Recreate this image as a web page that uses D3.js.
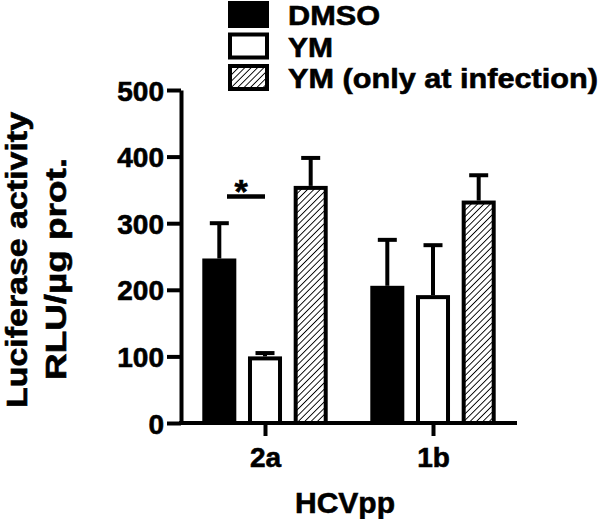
<!DOCTYPE html>
<html>
<head>
<meta charset="utf-8">
<script src="https://cdn.jsdelivr.net/npm/d3@7"></script>
<style>
  html, body { margin: 0; padding: 0; background: #fff; }
  svg { display: block; }
  text { font-family: "Liberation Sans", Arial, sans-serif; font-weight: bold; fill: #000; stroke: #000; stroke-width: 0.6px; }
</style>
</head>
<body>
<svg id="chart" width="600" height="519"></svg>
<script>
// Chart data
const groups = ["2a", "1b"];
const series = ["DMSO", "YM", "YM (only at infection)"];
const dmsoMean = [244, 203];
const dmsoErr = [56, 72];
const ymMean = [97, 189];
const ymErr = [8, 78];
const ymInfMean = [353, 331];
const ymInfErr = [45, 41];
const yTicks = [0, 100, 200, 300, 400, 500];
const sigMarks = [{ group: "2a", value: 340, label: "*" }];

const means = [dmsoMean, ymMean, ymInfMean];
const errs = [dmsoErr, ymErr, ymInfErr];
const fills = ["#000", "#fff", "url(#hatch)"];

const rows = [];
series.forEach((s, i) => {
  groups.forEach((g, j) => {
    rows.push({ series: s, group: g, mean: means[i][j], err: errs[i][j], fill: fills[i] });
  });
});

const svg = d3.select("#chart");

// hatch pattern for the third series
const defs = svg.append("defs");
const pat = defs.append("pattern")
  .attr("id", "hatch")
  .attr("patternUnits", "userSpaceOnUse")
  .attr("width", 4.5)
  .attr("height", 4.5)
  .attr("patternTransform", "rotate(45)");
pat.append("rect").attr("width", 4.5).attr("height", 4.5).attr("fill", "#fff");
pat.append("line")
  .attr("x1", 0).attr("y1", 0).attr("x2", 0).attr("y2", 4.5)
  .attr("stroke", "#000").attr("stroke-width", 1.8);

// scales
const x0 = d3.scalePoint().domain(groups).range([181, 517]).padding(0.5);
const x1 = d3.scaleBand().domain(series).range([-60.7, 60.7]).paddingInner(0.343);
const y = d3.scaleLinear().domain([0, 500]).range([423, 90]);

// axes
const yAxis = svg.append("g")
  .attr("transform", "translate(181,0)")
  .call(d3.axisLeft(y).tickValues(yTicks).tickSize(14).tickSizeOuter(0).tickPadding(3));
yAxis.selectAll("path, line").attr("stroke", "#000").attr("stroke-width", 4);
yAxis.selectAll("text").style("font-size", "28px").attr("dy", "0.36em");

const xAxis = svg.append("g")
  .attr("transform", "translate(0,423)")
  .call(d3.axisBottom(x0).tickSize(13).tickSizeOuter(0).tickPadding(11));
xAxis.select("path").attr("d", "M179,0H517");
xAxis.selectAll("path, line").attr("stroke", "#000").attr("stroke-width", 4);
xAxis.selectAll("text").style("font-size", "28px");

// bars
const barG = svg.append("g");
barG.selectAll("rect")
  .data(rows)
  .join("rect")
  .attr("x", d => x0(d.group) + x1(d.series))
  .attr("width", x1.bandwidth())
  .attr("y", d => y(d.mean))
  .attr("height", d => y(0) - y(d.mean))
  .attr("fill", d => d.fill)
  .attr("stroke", "#000")
  .attr("stroke-width", 4);

// error bars (upper only)
const errG = svg.append("g").attr("stroke", "#000").attr("stroke-width", 4);
rows.forEach(d => {
  const cx = x0(d.group) + x1(d.series) + x1.bandwidth() / 2;
  errG.append("line")
    .attr("x1", cx).attr("x2", cx)
    .attr("y1", y(d.mean) - 2).attr("y2", y(d.mean + d.err));
  errG.append("line")
    .attr("x1", cx - 9.5).attr("x2", cx + 9.5)
    .attr("y1", y(d.mean + d.err)).attr("y2", y(d.mean + d.err));
});

// significance mark
sigMarks.forEach(m => {
  const xs = x0(m.group);
  svg.append("line")
    .attr("x1", xs - 38).attr("x2", xs)
    .attr("y1", y(m.value)).attr("y2", y(m.value))
    .attr("stroke", "#000").attr("stroke-width", 4.5);
  svg.append("text")
    .attr("x", xs - 24).attr("y", y(m.value) + 6)
    .attr("text-anchor", "middle")
    .style("font-size", "34px")
    .text(m.label);
});

// axis titles
svg.append("text")
  .attr("x", 345).attr("y", 513)
  .attr("text-anchor", "middle")
  .style("font-size", "30px")
  .text("HCVpp");

svg.append("text")
  .attr("transform", "translate(27,260) rotate(-90)")
  .attr("text-anchor", "middle")
  .attr("textLength", 296)
  .attr("lengthAdjust", "spacingAndGlyphs")
  .style("font-size", "30px")
  .text("Luciferase activity");

svg.append("text")
  .attr("transform", "translate(66,269) rotate(-90)")
  .attr("text-anchor", "middle")
  .attr("textLength", 222)
  .attr("lengthAdjust", "spacingAndGlyphs")
  .style("font-size", "30px")
  .text("RLU/µg prot.");

// legend
const legendWidths = [92, 45, 310];
const legend = svg.append("g");
series.forEach((s, i) => {
  const cy = 14.5 + i * 31.5;
  legend.append("rect")
    .attr("x", 230).attr("y", cy - 11.5)
    .attr("width", 37).attr("height", 23)
    .attr("fill", fills[i])
    .attr("stroke", "#000").attr("stroke-width", 4);
  legend.append("text")
    .attr("x", 288).attr("y", cy + 10.5)
    .attr("textLength", legendWidths[i])
    .attr("lengthAdjust", "spacingAndGlyphs")
    .style("font-size", "28px")
    .text(s);
});
</script>
</body>
</html>
